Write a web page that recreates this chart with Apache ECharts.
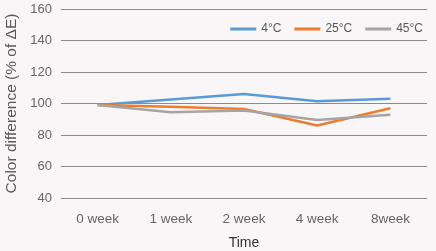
<!DOCTYPE html>
<html>
<head>
<meta charset="utf-8">
<script src="https://cdn.jsdelivr.net/npm/echarts@6/dist/echarts.min.js"></script>
<style>
  html, body { margin: 0; padding: 0; background: #f8f6f7; }
  #chart { width: 436px; height: 251px; }
</style>
</head>
<body>
<div id="chart"></div>
<script>
const categories = ["0 week", "1 week", "2 week", "4 week", "8week"];
const series4 = [99, 102.5, 106, 101.5, 103];
const series25 = [99, 98, 96.5, 86, 97];
const series45 = [99, 94.5, 95.5, 89.5, 92.8];
const seriesNames = ["4°C", "25°C", "45°C"];
const colors = ["#5b9bd5", "#ed7d31", "#a5a5a5"];

const chart = echarts.init(document.getElementById("chart"));
const font = "Liberation Sans";

chart.setOption({
  backgroundColor: "#f8f6f7",
  color: colors,
  animation: false,
  legend: {
    right: 8,
    top: 18,
    itemWidth: 26,
    itemHeight: 3,
    itemGap: 13,
    icon: "rect",
    textStyle: { color: "#595959", fontSize: 12, fontFamily: font },
    data: seriesNames
  },
  grid: { left: 61, right: 9, top: 9, bottom: 53, outerBoundsMode: "none" },
  xAxis: {
    type: "category",
    data: categories,
    name: "Time",
    nameLocation: "middle",
    nameGap: 38,
    nameTextStyle: { color: "#333", fontSize: 14, fontFamily: font },
    axisLine: { show: false },
    axisTick: { show: false },
    axisLabel: { color: "#666", fontSize: 13.5, fontFamily: font, margin: 14 }
  },
  yAxis: {
    type: "value",
    min: 40,
    max: 160,
    interval: 20,
    name: "Color difference (% of ΔE)",
    nameLocation: "middle",
    nameGap: 33,
    nameTextStyle: { color: "#595959", fontSize: 15.5, fontFamily: font },
    axisLine: { show: false },
    axisTick: { show: false },
    axisLabel: { color: "#666", fontSize: 13, fontFamily: font, margin: 9 },
    splitLine: { lineStyle: { color: "#8c8c8c", width: 1 } }
  },
  series: [
    { name: seriesNames[0], type: "line", data: series4, symbol: "none", lineStyle: { width: 2.5 } },
    { name: seriesNames[1], type: "line", data: series25, symbol: "none", lineStyle: { width: 2.5 } },
    { name: seriesNames[2], type: "line", data: series45, symbol: "none", lineStyle: { width: 2.5 } }
  ]
});
</script>
</body>
</html>
